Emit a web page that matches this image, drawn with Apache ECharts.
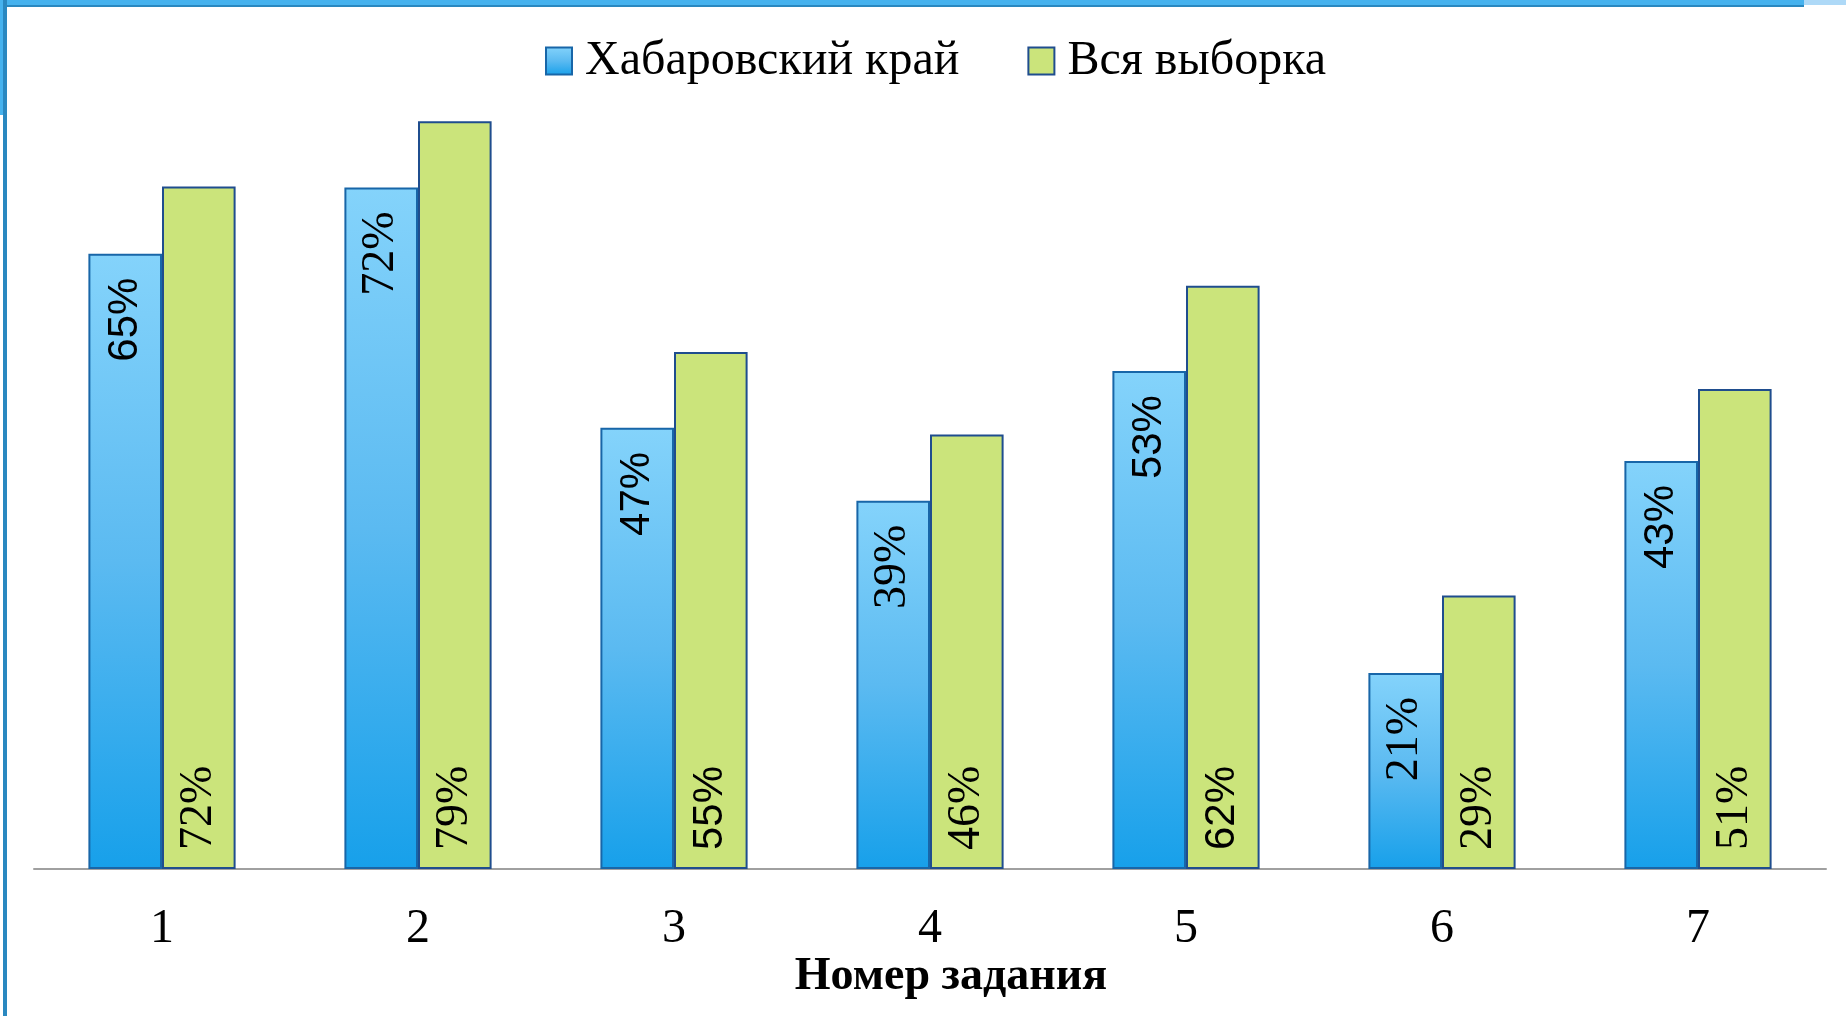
<!DOCTYPE html>
<html>
<head>
<meta charset="utf-8">
<script src="https://cdn.jsdelivr.net/npm/echarts@6/dist/echarts.min.js"></script>
<style>
html,body{margin:0;padding:0;background:#fff;}
#chart{width:1846px;height:1016px;}
</style>
</head>
<body>
<div id="chart"></div>
<script>
const categories = ['1', '2', '3', '4', '5', '6', '7'];
const seriesNames = ['Хабаровский край', 'Вся выборка'];
// values; labels show them rounded
const khabarovsk = [65.0, 72.0, 46.6, 38.9, 52.6, 20.7, 43.1];
const allSample = [72.1, 79.0, 54.6, 45.9, 61.6, 28.9, 50.7];
const axisTitle = 'Номер задания';

// label font choice per bar (reference mixes sans and serif labels)
const blueSans = [true, false, true, false, true, false, true];
const greenSans = [false, false, true, false, true, false, false];

const SERIF = '"Liberation Serif", "Times New Roman", serif';
const SANS = '"Liberation Sans", Arial, sans-serif';

function mkData(vals, sansFlags) {
  return vals.map((v, i) => ({
    value: v,
    label: sansFlags[i] ? { fontFamily: SANS, fontSize: 42 } : { fontFamily: SERIF, fontSize: 46 }
  }));
}

const chart = echarts.init(document.getElementById('chart'));
const blueFill = new echarts.graphic.LinearGradient(0, 0, 0, 1, [
  { offset: 0, color: '#84d3fb' },
  { offset: 0.5, color: '#5bbaf1' },
  { offset: 1, color: '#17a0ea' }
]);

chart.setOption({
  animation: false,
  backgroundColor: '#ffffff',
  legend: {
    top: 32,
    left: 540,
    itemWidth: 26,
    itemHeight: 27,
    itemGap: 68,
    icon: 'rect',
    textStyle: { fontFamily: SERIF, fontSize: 48, color: '#000', padding: [0, 0, 0, 8] },
    data: seriesNames
  },
  grid: { left: 34, right: 20, top: 17, bottom: 147, containLabel: false },
  xAxis: {
    type: 'category',
    data: categories,
    axisLine: { show: true, lineStyle: { color: '#a0a0a0', width: 2 } },
    axisTick: { show: false },
    axisLabel: { fontFamily: SERIF, fontSize: 48, color: '#000', margin: 36 }
  },
  yAxis: {
    type: 'value', min: 0, max: 90,
    show: false,
    splitLine: { show: false }
  },
  series: [
    {
      name: seriesNames[0],
      type: 'bar',
      data: mkData(khabarovsk, blueSans),
      barGap: '0%',
      barCategoryGap: '42.5%',
      itemStyle: { color: blueFill, borderColor: '#1866a8', borderWidth: 2 },
      label: {
        show: true,
        position: 'insideTop',
        distance: 24,
        rotate: 90,
        align: 'right',
        verticalAlign: 'middle',
        fontSize: 46,
        color: '#000',
        formatter: p => Math.round(p.value) + '%'
      }
    },
    {
      name: seriesNames[1],
      type: 'bar',
      data: mkData(allSample, greenSans),
      itemStyle: { color: '#cbe47b', borderColor: '#1f4d8e', borderWidth: 2 },
      label: {
        show: true,
        position: 'insideBottom',
        distance: 19,
        rotate: 90,
        align: 'left',
        verticalAlign: 'middle',
        fontSize: 46,
        color: '#000',
        formatter: p => Math.round(p.value) + '%'
      }
    }
  ],
  graphic: [
    { type: 'rect', shape: { x: 0, y: 0, width: 1804, height: 5 }, style: { fill: '#46b2ee' }, silent: true },
    { type: 'rect', shape: { x: 1804, y: 0, width: 42, height: 5 }, style: { fill: '#aed9f7' }, silent: true },
    { type: 'rect', shape: { x: 0, y: 5, width: 1804, height: 2 }, style: { fill: '#2a88c0' }, silent: true },
    { type: 'rect', shape: { x: 0, y: 0, width: 3, height: 115 }, style: { fill: '#46b2ee' }, silent: true },
    { type: 'rect', shape: { x: 3, y: 0, width: 4, height: 1016 }, style: { fill: '#2a88c0' }, silent: true },
    {
      type: 'text', x: 951, y: 977, silent: true,
      style: {
        text: axisTitle,
        fontFamily: SERIF, fontSize: 46, fontWeight: 'bold', fill: '#000',
        textAlign: 'center', textVerticalAlign: 'middle'
      }
    }
  ]
});
</script>
</body>
</html>
